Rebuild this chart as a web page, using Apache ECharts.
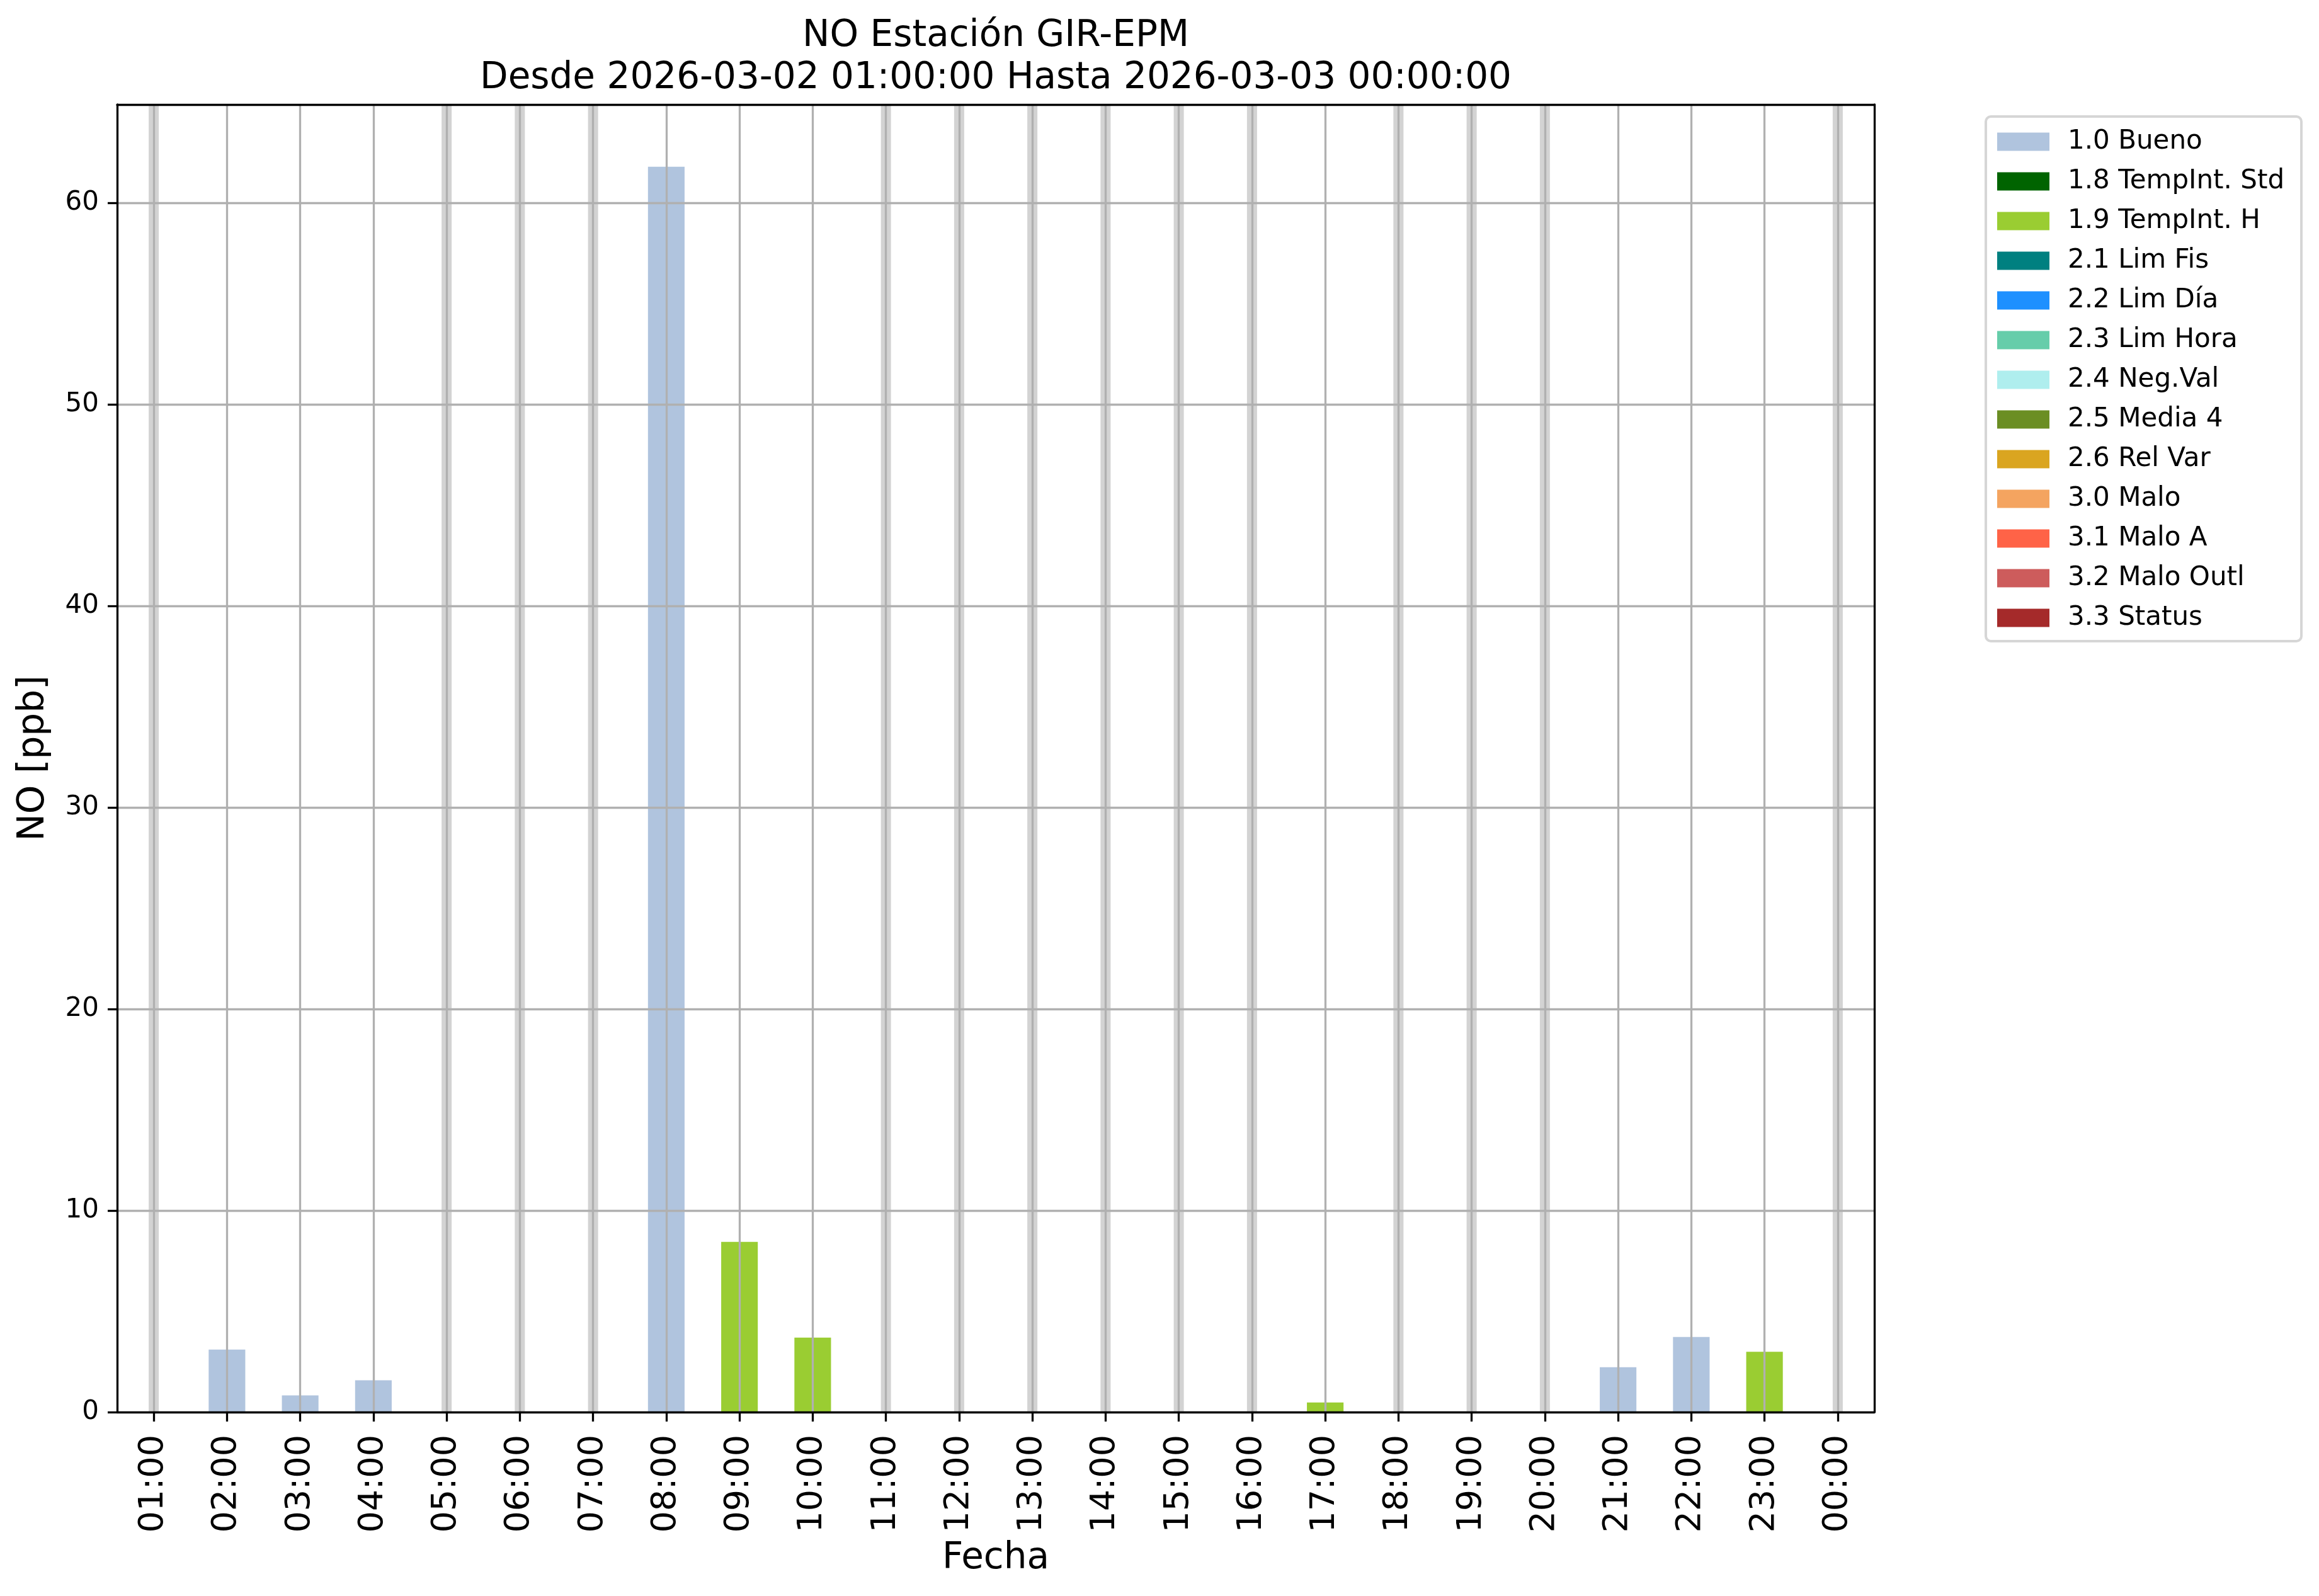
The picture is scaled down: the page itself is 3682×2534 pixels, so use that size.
<!DOCTYPE html>
<html>
<head>
<meta charset="utf-8">
<script src="https://cdn.jsdelivr.net/npm/echarts@6/dist/echarts.min.js"></script>
<style>
html,body{margin:0;padding:0;background:#fff;}
#chart{width:3682px;height:2534px;}
</style>
</head>
<body>
<div id="chart"></div>
<script>
// ---- data ----
const categories = ['01:00','02:00','03:00','04:00','05:00','06:00','07:00','08:00','09:00','10:00','11:00','12:00',
  '13:00','14:00','15:00','16:00','17:00','18:00','19:00','20:00','21:00','22:00','23:00','00:00'];
const noValues = [null,3.1,0.83,1.58,null,null,null,61.8,8.45,3.7,null,null,
  null,null,null,null,0.48,null,null,null,2.23,3.73,2.99,null];
const flagCodes = [null,'1.0','1.0','1.0',null,null,null,'1.0','1.9','1.9',null,null,
  null,null,null,null,'1.9',null,null,null,'1.0','1.0','1.9',null];
const flagLabels = ['1.0 Bueno','1.8 TempInt. Std','1.9 TempInt. H','2.1 Lim Fis','2.2 Lim Día','2.3 Lim Hora',
  '2.4 Neg.Val','2.5 Media 4','2.6 Rel Var','3.0 Malo','3.1 Malo A','3.2 Malo Outl','3.3 Status'];
const flagColors = ['#b0c4de','#006400','#9acd32','#008080','#1e90ff','#66cdaa',
  '#afeeee','#6b8e23','#daa520','#f4a460','#ff6347','#cd5c5c','#a52a2a'];
const yTicks = [0,10,20,30,40,50,60];
const titleLine1 = 'NO Estación GIR-EPM';
const titleLine2 = 'Desde 2026-03-02 01:00:00 Hasta 2026-03-03 00:00:00';

// ---- build ----
const maxVal = Math.max(...noValues.filter(v => v != null));
const Y_MAX = maxVal * 1.05;
const FONT = 'DejaVu Sans';
const LW = 3.3;

const flagSeries = flagLabels.map((lab, k) => ({
  name: lab,
  type: 'bar',
  xAxisIndex: 0,
  yAxisIndex: 0,
  stack: 'q',
  barWidth: '50%',
  z: 2,
  itemStyle: { color: flagColors[k] },
  data: noValues.map((v, i) => (v != null && lab.startsWith(flagCodes[i])) ? v : '-')
}));

// half-step helper axis: slot boundaries at even indices, category centres at odd indices
const halfSteps = [];
for (let j = 0; j <= categories.length * 2; j++) halfSteps.push(String(j));
const bandData = halfSteps.map((s, j) => {
  if (j % 2 === 0) return '-';
  const i = (j - 1) / 2;
  return noValues[i] == null ? Y_MAX : '-';
});

const bandSeries = {
  name: 'missing',
  type: 'bar',
  xAxisIndex: 1,
  yAxisIndex: 0,
  barWidth: 16,
  z: 1,
  silent: true,
  itemStyle: { color: '#d3d3d3' },
  data: bandData
};

const chart = echarts.init(document.getElementById('chart'), null, { renderer: 'canvas' });
chart.setOption({
  animation: false,
  backgroundColor: '#fff',
  textStyle: { fontFamily: FONT, color: '#000' },
  title: [
    { text: titleLine1, left: 1581, top: 29, textAlign: 'center', padding: 0,
      textStyle: { fontFamily: FONT, fontSize: 58, fontWeight: 'normal', color: '#000', lineHeight: 58 } },
    { text: titleLine2, left: 1581, top: 96, textAlign: 'center', padding: 0,
      textStyle: { fontFamily: FONT, fontSize: 58, fontWeight: 'normal', color: '#000', lineHeight: 58 } }
  ],
  legend: {
    data: flagLabels,
    orient: 'vertical',
    left: 3153,
    top: 185,
    icon: 'rect',
    itemWidth: 83,
    itemHeight: 29,
    itemGap: 21,
    selectedMode: false,
    backgroundColor: '#fff',
    borderColor: '#d6d6d6',
    borderWidth: 4,
    borderRadius: 8,
    padding: [19, 27, 16, 18],
    textStyle: { fontFamily: FONT, fontSize: 42, color: '#000', padding: [0, 0, 0, 24] }
  },
  grid: { left: 186, right: 706, top: 166, bottom: 292, containLabel: false },
  xAxis: [
    {
      type: 'category', position: 'bottom', data: categories, boundaryGap: true, z: 3,
      name: 'Fecha', nameLocation: 'middle', nameGap: 204,
      nameTextStyle: { fontFamily: FONT, fontSize: 58, color: '#000', lineHeight: 58 },
      axisLine: { show: true, lineStyle: { color: '#000', width: LW } },
      axisTick: { show: true, alignWithLabel: true, length: 15, interval: 0, lineStyle: { color: '#000', width: LW } },
      axisLabel: { rotate: 90, interval: 0, fontSize: 54, margin: 36, color: '#000', fontFamily: FONT },
      splitLine: { show: false }
    },
    {
      type: 'category', position: 'top', data: halfSteps, boundaryGap: false, z: 3,
      axisLine: { show: true, onZero: false, lineStyle: { color: '#000', width: LW } },
      axisTick: { show: false },
      axisLabel: { show: false },
      splitLine: { show: true, interval: (idx) => idx % 2 === 1, lineStyle: { color: '#b0b0b0', width: LW } }
    }
  ],
  yAxis: [
    {
      type: 'value', position: 'left', min: 0, max: Y_MAX, interval: 10, z: 3,
      name: 'NO [ppb]', nameLocation: 'middle', nameGap: 103, nameRotate: 90,
      nameTextStyle: { fontFamily: FONT, fontSize: 58, color: '#000', lineHeight: 58 },
      axisLine: { show: true, onZero: false, lineStyle: { color: '#000', width: LW } },
      axisTick: { show: true, length: 15, customValues: yTicks, lineStyle: { color: '#000', width: LW } },
      axisLabel: { fontSize: 42, margin: 29, color: '#000', fontFamily: FONT, customValues: yTicks },
      splitLine: { show: true, showMinLine: false, showMaxLine: true, lineStyle: { color: '#b0b0b0', width: LW } }
    },
    {
      type: 'value', position: 'right', min: 0, max: Y_MAX, z: 3,
      axisLine: { show: true, onZero: false, lineStyle: { color: '#000', width: LW } },
      axisTick: { show: false },
      axisLabel: { show: false },
      splitLine: { show: false }
    }
  ],
  series: [bandSeries].concat(flagSeries)
});
</script>
</body>
</html>
